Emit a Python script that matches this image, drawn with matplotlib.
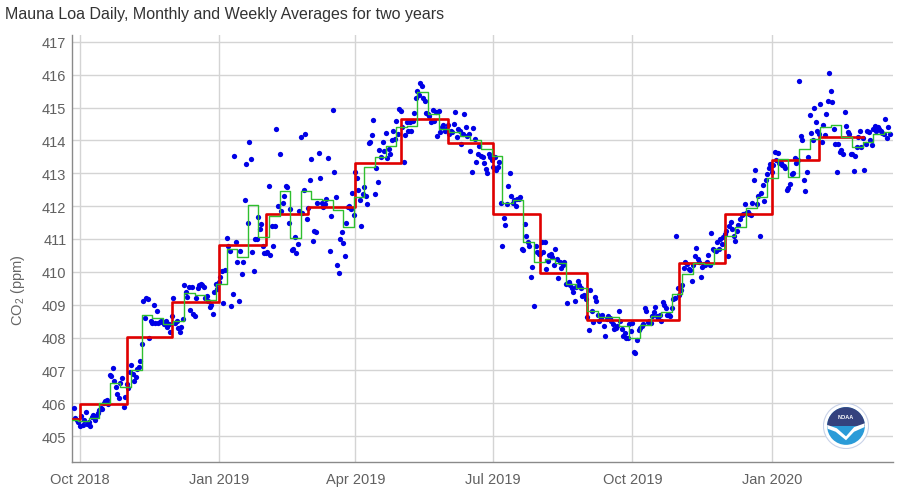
import datetime as dt
import numpy as np
import matplotlib
matplotlib.use('Agg')
import matplotlib.pyplot as plt
import matplotlib.dates as mdates
from matplotlib.patches import Circle, Wedge, Polygon

plt.rcParams['font.family'] = ['Liberation Sans', 'DejaVu Sans']
plt.rcParams['mathtext.default'] = 'regular'

# monthly means, one value per calendar month (Sep 2018 .. Feb 2020)
month_first = dt.date(2018, 9, 1)
monthly_co2 = [405.51, 405.99, 408.02, 409.07, 410.83, 411.75, 411.97, 413.32, 414.66,
               413.92, 411.77, 409.95, 408.54, 408.53, 410.27, 411.76, 413.40, 414.11]

# weekly means, weeks starting on Sunday
week_first = dt.date(2018, 9, 23)
weekly_co2 = [405.5, 405.45, 405.55, 406.0, 406.63, 406.48, 407.0, 408.7, 408.6, 408.4,
              408.5, 409.35, 409.3, 409.15, 409.63,
              410.7, 410.44, 412.04, 411.07,
              411.71, 412.47, 411.02, 412.47,
              412.22, 412.18, 411.88, 411.37, 412.27,
              413.2, 413.49, 413.82, 414.40,
              414.45, 415.47, 414.81, 414.35,
              414.27, 414.13, 414.0, 413.74, 413.54,
              412.1, 412.2, 410.92, 410.3,
              410.39, 410.27, 409.63, 409.51,
              408.82, 408.63, 408.62, 408.36, 407.98,
              408.38, 408.66, 408.77, 409.33,
              409.93, 410.27, 410.24, 410.7,
              411.1, 411.36, 411.93, 412.27, 412.85,
              413.44, 412.9, 413.74, 414.05,
              414.40, 414.47, 414.10, 413.79,
              413.95, 414.2, 414.25]

# daily values, listed per month from the given first day
daily_2018_09 = (dt.date(2018, 9, 27), [405.84, 405.55, 405.5, 405.42])
daily_2018_10 = (dt.date(2018, 10, 1), [405.3, 405.6, 405.35, 405.5, 405.74, 405.37, 405.42, 405.32, 405.57, 405.65,
                                        405.5, 405.62, 405.7, 405.8, 405.86, 405.82, 406.0, 406.08, 406.1, 405.98,
                                        406.86, 406.82, 407.06, 406.68, 406.48, 406.28, 406.16, 406.62, 406.78, 405.87, 406.2])
daily_2018_11 = (dt.date(2018, 11, 1), [406.58, 406.45, 406.94, 407.16, 406.9, 406.67, 406.8, 407.04, 407.1, 407.3,
                                        407.8, 409.1, 408.58, 409.2, 409.17, 407.98, 408.5, 408.44, 408.99, 408.44,
                                        408.82, 408.45, 408.47, 408.5, 408.47, 408.4, 408.5, 408.33, 408.4, 408.18])
daily_2018_12 = (dt.date(2018, 12, 1), [408.66, 409.2, 408.44, 408.5, 408.3, 408.16, 408.33, 408.55, 409.6, 409.38,
                                        409.23, 409.54, 408.83, 409.55, 408.72, 408.65, 409.2, 409.5, 409.6, 409.62,
                                        409.6, 409.55, 409.2, 409.25, 409.1, 408.92, 409.0, 408.72, 409.4, 409.62, 409.48])
daily_2019_01 = (dt.date(2019, 1, 1), [409.7, 409.83, 410.04, 409.05, 410.05, 411.03, 410.78, 410.64, 408.97, 409.33,
                                       413.52, 410.9, 410.3, 409.1, 410.63, 409.93, 410.29, 412.2, 413.28, 411.5,
                                       413.95, 413.44, 410.6, 410.04, 411.0, 411.0, 411.66, 411.3, 411.46, 410.8, 410.57])
daily_2019_02 = (dt.date(2019, 2, 1), [410.57, 410.6, 412.6, 410.51, 411.4, 410.8, 411.4, 414.35, 412.01, 413.59,
                                       411.86, 412.1, 412.3, 412.6, 412.58, 411.5, 411.91, 410.67, 410.7, 411.07,
                                       410.57, 410.85, 411.86, 414.1, 411.8, 412.5, 414.2, 411.61])
daily_2019_03 = (dt.date(2019, 3, 1), [411.94, 412.81, 413.44, 410.95, 411.25, 411.2, 412.1, 413.62, 412.85, 412.1,
                                       411.98, 412.05, 412.22, 413.48, 410.64, 411.69, 414.93, 413.03, 412.27, 410.22,
                                       409.96, 411.0, 411.2, 410.88, 410.47, 411.5, 411.98, 412.0, 411.9, 412.4, 411.74])
daily_2019_04 = (dt.date(2019, 4, 1), [413.03, 412.85, 412.5, 412.2, 411.39, 412.37, 412.59, 412.32, 412.07, 413.92,
                                       413.95, 414.17, 414.63, 412.37, 413.15, 412.73, 413.71, 413.49, 413.95, 413.69,
                                       414.23, 413.47, 413.74, 413.6, 414.0, 414.3, 414.05, 414.6, 414.2, 414.96])
daily_2019_05 = (dt.date(2019, 5, 1), [414.91, 414.4, 413.34, 414.17, 414.57, 414.3, 414.55, 414.3, 414.6, 414.84,
                                       415.3, 415.49, 415.37, 415.75, 415.67, 415.3, 415.2, 414.84, 414.8, 414.75,
                                       414.55, 414.94, 414.6, 414.88, 414.15, 414.91, 414.25, 414.4, 414.47, 414.3, 414.35])
daily_2019_06 = (dt.date(2019, 6, 1), [414.47, 414.2, 414.3, 414.25, 414.5, 414.86, 414.1, 414.35, 414.3, 413.9,
                                       414.2, 414.81, 414.4, 414.15, 414.2, 413.69, 413.03, 414.37, 414.05, 413.34,
                                       413.6, 413.84, 413.54, 413.5, 413.3, 413.13, 413.0, 413.59, 413.5, 413.4])
daily_2019_07 = (dt.date(2019, 7, 1), [413.2, 413.5, 413.1, 413.18, 413.34, 412.1, 410.8, 411.63, 411.43, 412.05,
                                       412.6, 413.01, 412.3, 412.1, 412.2, 412.0, 412.22, 412.22, 412.27, 410.7,
                                       410.67, 411.46, 411.1, 410.9, 410.8, 409.85, 410.14, 408.97, 410.8, 410.6, 410.54])
daily_2019_08 = (dt.date(2019, 8, 1), [410.54, 410.9, 410.6, 410.9, 410.09, 410.34, 410.51, 410.54, 410.45, 410.2,
                                       410.7, 410.39, 409.8, 410.3, 410.11, 410.2, 410.31, 409.63, 409.05, 409.7,
                                       409.6, 409.5, 409.4, 409.12, 409.55, 409.73, 409.6, 409.5, 409.27, 409.3, 409.17])
daily_2019_09 = (dt.date(2019, 9, 1), [408.62, 408.24, 409.46, 408.8, 408.46, 409.22, 409.1, 408.7, 408.5, 408.59,
                                       408.7, 408.36, 408.06, 408.55, 408.65, 408.6, 408.5, 408.4, 408.26, 408.3,
                                       408.35, 408.82, 408.5, 408.26, 408.06, 408.15, 407.98, 408.0, 408.41, 408.2])
daily_2019_10 = (dt.date(2019, 10, 1), [408.43, 407.55, 407.52, 407.92, 408.24, 408.3, 408.36, 408.4, 408.89, 408.82,
                                        408.46, 408.5, 408.44, 408.66, 408.77, 408.92, 408.65, 408.6, 408.7, 408.5,
                                        409.09, 408.99, 408.9, 408.69, 408.7, 408.65, 408.89, 409.17, 409.2, 411.08, 409.5])
daily_2019_11 = (dt.date(2019, 11, 1), [409.3, 409.45, 409.6, 410.11, 410.31, 410.25, 410.1, 410.07, 409.71, 410.2,
                                        410.49, 410.72, 410.4, 410.3, 409.83, 410.14, 410.23, 410.2, 410.3, 410.51,
                                        410.21, 411.18, 410.7, 410.65, 410.64, 410.9, 410.7, 411.0, 410.85, 411.05])
daily_2019_12 = (dt.date(2019, 12, 1), [411.15, 411.25, 410.49, 411.4, 411.53, 411.3, 411.1, 410.95, 411.25, 411.43,
                                        411.6, 411.73, 411.76, 412.05, 411.8, 411.81, 411.76, 411.73, 412.1, 412.81,
                                        413.11, 412.06, 412.32, 411.08, 412.4, 412.65, 412.17, 412.81, 412.98, 413.15, 413.28])
daily_2020_01 = (dt.date(2020, 1, 1), [413.03, 413.25, 413.66, 413.4, 413.62, 413.3, 413.3, 413.25, 413.21, 413.15,
                                       412.5, 412.55, 412.68, 412.98, 413.0, 413.46, 413.32, 413.4, 415.8, 414.15,
                                       414.0, 412.81, 412.45, 413.03, 413.5, 414.76, 414.23, 414.0, 414.98, 414.57, 414.3])
daily_2020_02 = (dt.date(2020, 2, 1), [414.2, 415.11, 413.95, 414.47, 414.17, 414.81, 415.2, 416.05, 415.49, 415.18,
                                       414.35, 413.89, 413.05, 413.89, 413.64, 413.7, 413.6, 414.88, 414.43, 414.25,
                                       414.2, 413.6, 413.59, 413.07, 413.54, 413.8, 414.1, 414.3, 413.79])
daily_2020_03 = (dt.date(2020, 3, 1), [414.07, 413.11, 413.9, 414.3, 414.25, 414.0, 413.86, 414.35, 414.45, 414.3,
                                       414.4, 414.35, 414.3, 414.23, 414.2, 414.66, 414.07, 414.4, 414.2])

daily_months = [daily_2018_09, daily_2018_10, daily_2018_11, daily_2018_12,
                daily_2019_01, daily_2019_02, daily_2019_03, daily_2019_04, daily_2019_05, daily_2019_06,
                daily_2019_07, daily_2019_08, daily_2019_09, daily_2019_10, daily_2019_11, daily_2019_12,
                daily_2020_01, daily_2020_02, daily_2020_03]

day_x, day_y = [], []
for first, vals in daily_months:
    for i, v in enumerate(vals):
        day_x.append(first + dt.timedelta(days=i))
        day_y.append(v)
last_day = day_x[-1]


def add_months(d, n):
    m = d.month - 1 + n
    return dt.date(d.year + m // 12, m % 12 + 1, 1)


month_x = [add_months(month_first, i) for i in range(len(monthly_co2) + 1)]
month_y = monthly_co2 + [monthly_co2[-1]]
week_x = [week_first + dt.timedelta(days=7 * i) for i in range(len(weekly_co2))] + [last_day]
week_y = weekly_co2 + [weekly_co2[-1]]

fig = plt.figure(figsize=(9, 4.89), dpi=100)
ax = fig.add_axes([72 / 900, 1 - 463 / 489, (893 - 72) / 900, (463 - 36) / 489])

ax.plot(day_x, day_y, 'o', color='#0000e6', markersize=3.8, markeredgewidth=0, zorder=3)
ax.plot(month_x, month_y, drawstyle='steps-post', color='#e00000', lw=1.9, zorder=4)
ax.plot(week_x, week_y, drawstyle='steps-post', color='#2fbf2f', lw=1.0, zorder=5)

ax.set_xlim(dt.date(2018, 9, 26) + dt.timedelta(hours=10), dt.date(2020, 3, 21))
ax.set_ylim(404.21, 417.21)
ax.set_yticks(np.arange(405, 418, 1))
ax.xaxis.set_major_locator(mdates.MonthLocator(bymonth=[1, 4, 7, 10]))
ax.xaxis.set_major_formatter(mdates.DateFormatter('%b %Y'))

ax.grid(True, color='#d4d4d4', lw=1.0, zorder=0)
ax.set_axisbelow(True)
for s in ['top', 'right']:
    ax.spines[s].set_visible(False)
for s in ['left', 'bottom']:
    ax.spines[s].set_color('#8a8a8a')
    ax.spines[s].set_linewidth(1.0)
ax.tick_params(axis='both', length=0, colors='#606060', labelsize=10.5)
ax.tick_params(axis='y', pad=4)
ax.tick_params(axis='x', pad=7)

fig.text(5 / 900, 1 - 15 / 489, 'Mauna Loa Daily, Monthly and Weekly Averages for two years',
         fontsize=11.5, color='#333333', va='center', ha='left')
fig.text(18 / 900, 1 - 290 / 489, 'CO$_2$ (ppm)', rotation=90, fontsize=10.5,
         color='#666666', va='center', ha='center')

# rough NOAA emblem in the lower right corner
lax = fig.add_axes([823 / 900, 1 - 450 / 489, 46 / 900, 46 / 489])
lax.set_xlim(-1, 1)
lax.set_ylim(-1, 1)
lax.set_aspect('equal')
lax.axis('off')
lax.add_patch(Circle((0, 0), 0.98, facecolor='white', edgecolor='#c8d2e8', lw=0.8))
lax.add_patch(Circle((0, 0), 0.82, facecolor='#2a9bd8', edgecolor='none'))
lax.add_patch(Wedge((0, 0), 0.82, 0, 180, facecolor='#34427e', edgecolor='none'))
lax.add_patch(Polygon([[-0.82, 0.05], [-0.4, -0.1], [0.0, -0.45], [0.35, -0.05], [0.82, 0.12],
                       [0.8, -0.05], [0.35, -0.25], [0.0, -0.62], [-0.45, -0.25], [-0.8, -0.12]],
                      closed=True, facecolor='white', edgecolor='none'))
lax.text(0, 0.4, 'NOAA', color='white', fontsize=4, ha='center', va='center', fontweight='bold')

fig.savefig('out.png', dpi=100)
